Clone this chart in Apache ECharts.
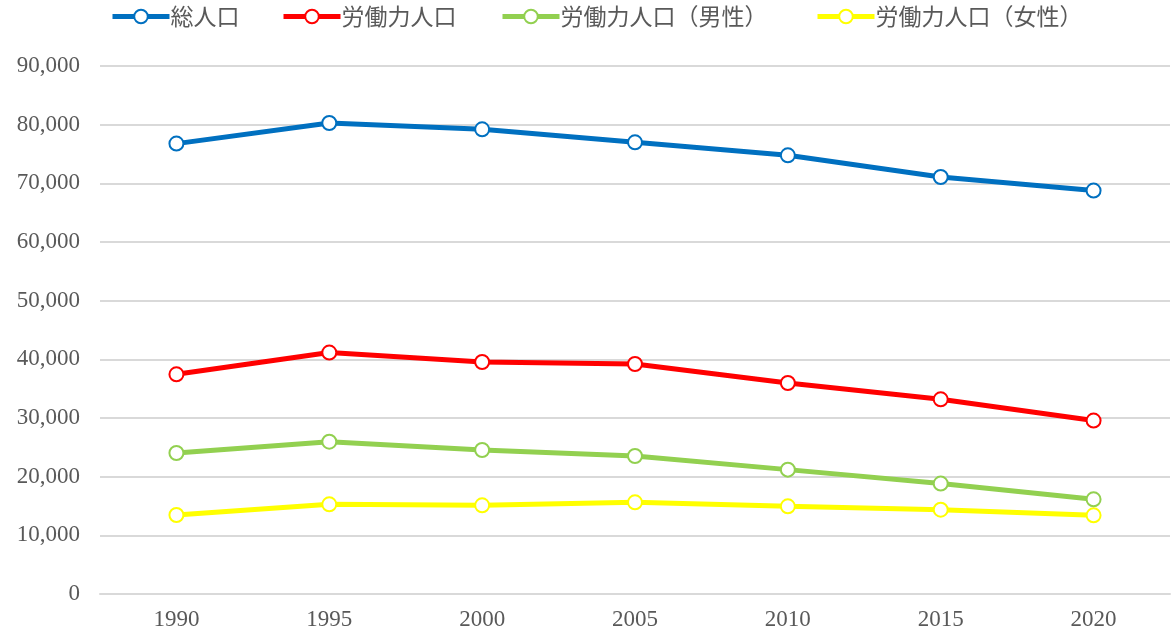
<!DOCTYPE html>
<html>
<head>
<meta charset="utf-8">
<script src="https://cdn.jsdelivr.net/npm/echarts@6/dist/echarts.min.js"></script>
<style>
  html, body { margin: 0; padding: 0; background: #fff; }
  #chart { width: 1171px; height: 637px; }
</style>
</head>
<body>
<div id="chart"></div>
<script>
// 年次
const years = ['1990', '1995', '2000', '2005', '2010', '2015', '2020'];

// 系列名
const seriesNames = ['総人口', '労働力人口', '労働力人口（男性）', '労働力人口（女性）'];

// 各系列の値（人）
const totalPopulation = [76770, 80280, 79210, 76990, 74770, 71080, 68760];
const laborForce      = [37450, 41150, 39550, 39200, 35970, 33190, 29560];
const laborForceMale  = [24030, 25970, 24550, 23520, 21200, 18820, 16140];
const laborForceFemale= [13470, 15290, 15120, 15630, 14950, 14380, 13410];

// 縦軸の範囲
const yMin = 0;
const yMax = 90000;
const yStep = 10000;

const colors = ['#0070C0', '#FF0000', '#92D050', '#FFFF00'];
const values = [totalPopulation, laborForce, laborForceMale, laborForceFemale];

const chart = echarts.init(document.getElementById('chart'), null, { renderer: 'canvas' });

const numberFont = '"Liberation Serif", serif';
const textColor = '#595959';

// 凡例の左端位置（項目ごと）
const legendLefts = [110, 281, 500, 815];

const legends = seriesNames.map((name, i) => ({
  left: legendLefts[i],
  top: 5,
  padding: 0,
  itemWidth: 57,
  itemHeight: 17,
  lineStyle: { width: 5 },
  itemStyle: { color: '#ffffff', borderWidth: 2 },
  textStyle: {
    fontFamily: '"Noto Sans CJK JP", sans-serif',
    fontSize: 23,
    color: textColor,
    padding: [0, 0, 0, -4]
  },
  data: [name]
}));

chart.setOption({
  animation: false,
  backgroundColor: '#ffffff',
  color: colors,
  legend: legends,
  grid: {
    left: 100,
    right: 1,
    top: 66,
    bottom: 43,
    containLabel: false
  },
  xAxis: {
    type: 'category',
    data: years,
    boundaryGap: true,
    axisLine: { show: true, lineStyle: { color: '#D9D9D9', width: 2 } },
    axisTick: { show: false },
    axisLabel: {
      margin: 14,
      fontFamily: numberFont,
      fontSize: 23,
      color: textColor
    }
  },
  yAxis: {
    type: 'value',
    min: yMin,
    max: yMax,
    interval: yStep,
    axisLine: { show: false },
    axisTick: { show: false },
    splitLine: { lineStyle: { color: '#D9D9D9', width: 2 } },
    axisLabel: {
      margin: 20,
      fontFamily: numberFont,
      fontSize: 23,
      color: textColor,
      formatter: v => v.toLocaleString('en-US')
    }
  },
  series: seriesNames.map((name, i) => ({
    name: name,
    type: 'line',
    data: values[i],
    symbol: 'circle',
    symbolSize: 14,
    lineStyle: { width: 5, color: colors[i] },
    itemStyle: { color: '#ffffff', borderColor: colors[i], borderWidth: 2 },
    z: 10 - i
  }))
});
</script>
</body>
</html>
